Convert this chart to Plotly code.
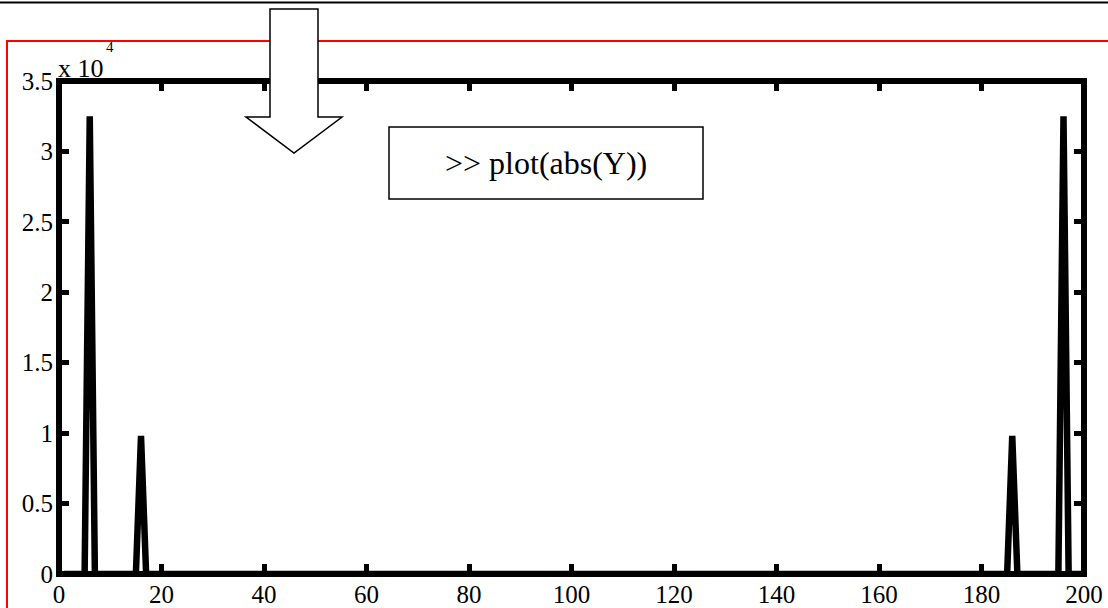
import plotly.graph_objects as go

# Spectrum magnitude |Y| over bin index (only the bins where the trace bends)
bin_index = [1, 5, 6, 7, 15, 16, 17, 185, 186, 187, 195, 196, 197, 200]
magnitude = [0, 0, 32500, 0, 0, 9800, 0, 0, 9800, 0, 0, 32500, 0, 0]

x_ticks = [0, 20, 40, 60, 80, 100, 120, 140, 160, 180, 200]
y_ticks = [0, 5000, 10000, 15000, 20000, 25000, 30000, 35000]
y_tick_text = ["0", "0.5", "1", "1.5", "2", "2.5", "3", "3.5"]

W, H = 1108, 608
ML, MR, MT, MB = 59, 24, 81, 34
PW, PH = W - ML - MR, H - MT - MB
SERIF = "Liberation Serif, Times New Roman, serif"


def px(x):
    return (x - ML) / PW


def py(y):
    return (H - MB - y) / PH


def path(points, close=False):
    s = "M " + " L ".join(f"{px(x):.5f},{py(y):.5f}" for x, y in points)
    return s + (" Z" if close else "")


fig = go.Figure()
fig.add_trace(go.Scatter(
    x=bin_index, y=magnitude, mode="lines",
    line=dict(color="black", width=6.5),
    hoverinfo="skip", showlegend=False,
))

axis_common = dict(
    showgrid=False, zeroline=False, showline=False,
    mirror="allticks", ticks="inside", ticklen=10,
    tickwidth=5, tickcolor="black", automargin=False,
    tickfont=dict(family=SERIF, size=25, color="black"),
)
fig.update_xaxes(range=[0, 200], tickvals=x_ticks,
                 ticktext=[str(v) for v in x_ticks], ticklabelstandoff=3,
                 **axis_common)
fig.update_yaxes(range=[0, 35000], tickvals=y_ticks, ticktext=y_tick_text,
                 ticklabelstandoff=5, **axis_common)

shapes = [
    # heavy box around the axes, centred on the axis limits
    dict(type="rect", xref="paper", yref="paper", x0=0, x1=1, y0=0, y1=1,
         line=dict(color="black", width=6), layer="above"),
    # page rule at the very top
    dict(type="line", xref="paper", yref="paper",
         x0=px(-5), x1=px(W + 5), y0=py(2.5), y1=py(2.5),
         line=dict(color="black", width=2), layer="above"),
    # red frame around the figure
    dict(type="path", xref="paper", yref="paper",
         path=path([(7, H + 10), (7, 41), (W + 10, 41)]),
         line=dict(color="red", width=2), layer="above"),
    # command box
    dict(type="rect", xref="paper", yref="paper",
         x0=px(389), x1=px(703), y0=py(199), y1=py(127),
         line=dict(color="black", width=1.5), fillcolor="white",
         layer="above"),
    # block arrow pointing down at the plot
    dict(type="path", xref="paper", yref="paper",
         path=path([(270, 9), (318, 9), (318, 117), (342, 117), (294, 153),
                    (246, 117), (270, 117)], close=True),
         line=dict(color="black", width=1.5), fillcolor="white",
         layer="above"),
]

annotations = [
    dict(text="&gt;&gt; plot(abs(Y))", xref="paper", yref="paper",
         x=px(546), y=py(163), xanchor="center", yanchor="middle",
         showarrow=False, font=dict(family=SERIF, size=32, color="black")),
    dict(text="x 10", xref="paper", yref="paper",
         x=px(56), y=py(68), xanchor="left", yanchor="middle",
         showarrow=False, font=dict(family=SERIF, size=26, color="black")),
    dict(text="4", xref="paper", yref="paper",
         x=px(104), y=py(47), xanchor="left", yanchor="middle",
         showarrow=False, font=dict(family=SERIF, size=15, color="black")),
]

fig.update_layout(
    width=W, height=H,
    margin=dict(l=ML, r=MR, t=MT, b=MB, pad=0, autoexpand=False),
    paper_bgcolor="white", plot_bgcolor="white",
    shapes=shapes, annotations=annotations,
)

fig.write_html("out.html")
